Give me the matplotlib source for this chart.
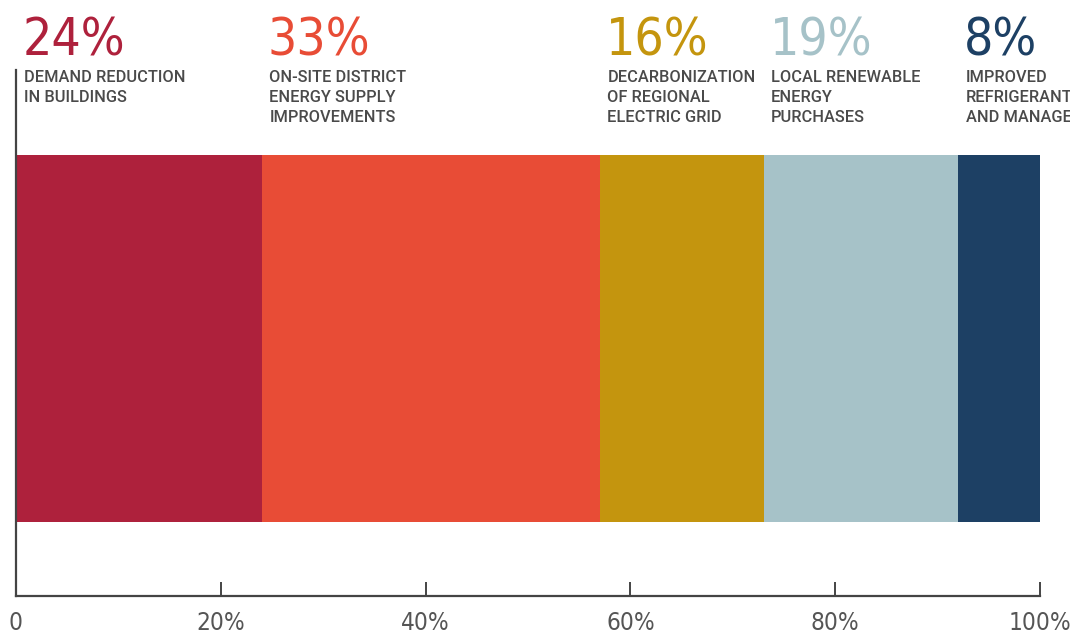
import matplotlib.pyplot as plt
from matplotlib.transforms import blended_transform_factory

shares = [24, 33, 16, 19, 8]
pct_labels = ["24%", "33%", "16%", "19%", "8%"]
categories = [
    "DEMAND REDUCTION\nIN BUILDINGS",
    "ON-SITE DISTRICT\nENERGY SUPPLY\nIMPROVEMENTS",
    "DECARBONIZATION\nOF REGIONAL\nELECTRIC GRID",
    "LOCAL RENEWABLE\nENERGY\nPURCHASES",
    "IMPROVED\nREFRIGERANT\nAND MANAGEMENT",
]
colors = ["#AE213C", "#E84C36", "#C4950E", "#A6C2C8", "#1D4064"]
xticks = [0, 20, 40, 60, 80, 100]
xtick_labels = ["0", "20%", "40%", "60%", "80%", "100%"]

cond = ["DejaVu Sans Condensed", "Liberation Sans Narrow", "DejaVu Sans"]

fig = plt.figure(figsize=(10.7, 6.4), dpi=100)
ax = fig.add_axes([16 / 1070, 44 / 640, 1024 / 1070, 526 / 640])

left = 0
lefts = []
for s, c in zip(shares, colors):
    ax.barh(0.489, s, left=left, height=0.698, color=c, edgecolor="none")
    lefts.append(left)
    left += s

ax.set_xlim(0, 100)
ax.set_ylim(0, 1)

for side in ["top", "right"]:
    ax.spines[side].set_visible(False)
for side in ["left", "bottom"]:
    ax.spines[side].set_color("#444444")
    ax.spines[side].set_linewidth(1.6)

ax.set_yticks([])
ax.set_xticks(xticks)
ax.set_xticklabels(xtick_labels, family=cond, fontstretch="condensed",
                   fontsize=17.5, color="#555555")
ax.tick_params(axis="x", direction="in", length=10, width=1.4, color="#444444", pad=11)

tr = blended_transform_factory(ax.transData, fig.transFigure)
for x0, p, cat, c in zip(lefts, pct_labels, categories, colors):
    ax.text(x0 + 0.6, 1 - 55 / 640, p, transform=tr, family=cond, fontstretch="condensed",
            fontsize=37, color=c, va="baseline", ha="left", clip_on=False)
    ax.text(x0 + 0.75, 1 - 70 / 640, cat, transform=tr, family=["Roboto", "DejaVu Sans"],
            fontsize=11.8, fontweight="medium", color="#4a4a4a", va="top", ha="left",
            linespacing=1.42, clip_on=False)

fig.savefig("out.png", dpi=100)
